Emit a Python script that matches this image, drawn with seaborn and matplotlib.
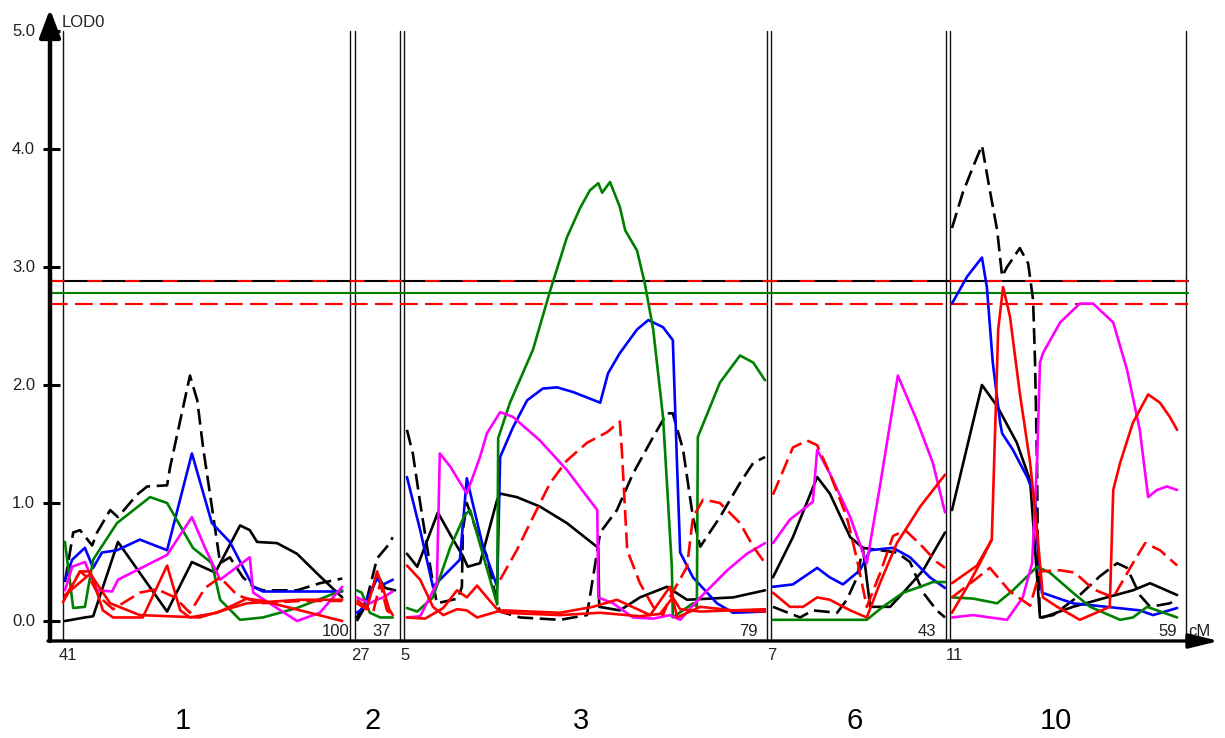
import matplotlib
matplotlib.use("Agg")
import matplotlib.pyplot as plt
import pandas as pd
import seaborn as sns

# ---------------- data ----------------
CHROMS = ["1", "2", "3", "6", "10"]
CM_START = [41, 27, 5, 7, 11]
CM_END = [100, 37, 79, 43, 59]
Y_TICKS = [0.0, 1.0, 2.0, 3.0, 4.0, 5.0]
Y_TICK_LABELS = ["0.0", "1.0", "2.0", "3.0", "4.0", "5.0"]
THRESH_BLACK = 2.88
THRESH_RED_HI = 2.88
THRESH_GREEN = 2.78
THRESH_RED_LO = 2.69

# chromosome 1
c1_K = ([41.4, 45.5, 47.2, 52.3, 62.4, 67.5, 72.3, 77.4, 79.4, 80.9, 85.0, 89.1, 93.8, 98.4],
        [0.0, 0.03, 0.04, 0.67, 0.08, 0.5, 0.41, 0.81, 0.77, 0.67, 0.66, 0.57, 0.38, 0.2])
c1_Kd = ([41.4, 43.1, 44.5, 47.0, 48.0, 50.7, 52.3, 56.2, 58.3, 62.4, 63.0, 67.1, 68.6, 69.8, 71.6,
          73.3, 75.3, 78.0, 80.1, 82.1, 89.1, 93.8, 98.4],
         [0.33, 0.75, 0.77, 0.64, 0.75, 0.94, 0.88, 1.07, 1.14, 1.15, 1.3, 2.08, 1.87, 1.47, 0.97,
          0.49, 0.54, 0.37, 0.29, 0.26, 0.26, 0.32, 0.36])
c1_B = ([41.4, 42.9, 45.5, 47.2, 49.0, 52.1, 56.8, 62.4, 67.5, 71.6, 75.3, 80.1, 82.1, 98.4],
        [0.35, 0.52, 0.62, 0.45, 0.58, 0.6, 0.69, 0.6, 1.42, 0.83, 0.67, 0.29, 0.25, 0.25])
c1_G = ([41.4, 43.1, 45.5, 47.2, 52.1, 58.9, 62.4, 67.7, 71.6, 73.3, 77.4, 82.1, 89.1, 98.4],
        [0.67, 0.11, 0.12, 0.52, 0.83, 1.05, 1.0, 0.62, 0.49, 0.18, 0.01, 0.03, 0.11, 0.26])
c1_M = ([41.4, 42.9, 45.5, 48.0, 51.1, 52.3, 62.4, 67.5, 70.2, 73.3, 79.4, 80.1, 89.1, 93.8, 98.4],
        [0.26, 0.46, 0.5, 0.26, 0.25, 0.35, 0.56, 0.88, 0.62, 0.35, 0.54, 0.24, 0.0, 0.07, 0.29])
c1_R1 = ([41.0, 44.5, 46.6, 49.2, 51.3, 57.4, 62.4, 65.1, 67.1, 72.7, 78.8, 82.1, 98.4],
         [0.16, 0.42, 0.42, 0.09, 0.03, 0.03, 0.47, 0.09, 0.03, 0.07, 0.19, 0.17, 0.0])
c1_R2 = ([41.4, 46.6, 50.7, 56.8, 69.1, 78.8, 89.7, 98.4],
         [0.22, 0.4, 0.15, 0.05, 0.03, 0.15, 0.18, 0.18])
c1_Rd = ([41.4, 44.5, 46.6, 48.6, 51.3, 56.8, 60.3, 64.0, 67.1, 70.2, 73.3, 76.8, 81.5, 89.7, 98.4],
         [0.2, 0.42, 0.35, 0.2, 0.1, 0.24, 0.27, 0.2, 0.07, 0.28, 0.37, 0.22, 0.15, 0.17, 0.17])

# chromosome 2
c2_K = ([27.4, 30.8, 31.9, 33.7, 35.9], [0.03, 0.26, 0.39, 0.28, 0.26])
c2_Kd = ([27.4, 29.2, 31.9, 34.1, 35.4], [0.0, 0.12, 0.53, 0.63, 0.71])
c2_B = ([27.4, 28.5, 31.0, 32.1, 32.8, 35.4], [0.07, 0.1, 0.29, 0.37, 0.3, 0.35])
c2_G = ([27.4, 28.5, 30.3, 32.6, 35.4], [0.26, 0.24, 0.07, 0.03, 0.03])
c2_M = ([27.4, 30.3, 31.9, 33.2, 35.4], [0.2, 0.15, 0.18, 0.2, 0.25])
c2_R1 = ([27.4, 29.6, 31.9, 33.2, 34.6, 35.4], [0.15, 0.1, 0.42, 0.28, 0.1, 0.05])
c2_Rd = ([27.4, 31.0, 32.6, 34.1, 35.4], [0.18, 0.07, 0.32, 0.09, 0.05])

# chromosome 3
c3_K = ([5.6, 7.7, 11.9, 15.0, 17.0, 18.0, 20.5, 24.0, 24.6, 28.0, 32.7, 38.2, 44.6, 44.8, 49.0,
         53.1, 58.6, 62.7, 72.1, 78.6],
        [0.57, 0.46, 0.92, 0.69, 0.55, 0.46, 0.49, 1.03, 1.08, 1.05, 0.97, 0.83, 0.62, 0.12, 0.09,
         0.2, 0.29, 0.18, 0.2, 0.26])
c3_Kd = ([5.6, 6.8, 8.3, 9.7, 10.9, 11.7, 16.0, 16.8, 17.0, 17.8, 19.9, 21.9, 24.0, 24.6, 28.7,
          36.8, 42.3, 45.0, 48.4, 51.7, 55.8, 58.6, 59.8, 61.9, 63.9, 65.4, 69.4, 73.5, 76.2, 78.6],
         [1.62, 1.42, 1.0, 0.63, 0.32, 0.15, 0.19, 0.29, 0.77, 1.0, 0.75, 0.55, 0.15, 0.08, 0.03,
          0.01, 0.05, 0.75, 0.94, 1.25, 1.56, 1.76, 1.76, 1.45, 0.88, 0.63, 0.88, 1.17, 1.34, 1.39])
c3_B = ([5.6, 8.3, 10.9, 16.4, 17.8, 21.1, 24.0, 24.6, 27.2, 30.1, 33.3, 36.2, 39.5, 45.0, 46.6,
         49.0, 52.5, 54.8, 57.8, 59.8, 60.7, 61.3, 63.9, 68.8, 72.1, 78.6],
        [1.22, 0.77, 0.29, 0.52, 1.21, 0.63, 0.29, 1.39, 1.64, 1.87, 1.97, 1.98, 1.94, 1.85, 2.1,
         2.27, 2.47, 2.55, 2.49, 2.38, 1.28, 0.58, 0.37, 0.15, 0.07, 0.08])
c3_G = ([5.6, 7.7, 10.9, 14.4, 17.4, 18.5, 24.0, 24.2, 26.6, 31.3, 34.8, 38.2, 40.9, 42.9, 44.6,
         45.4, 47.0, 49.0, 50.1, 52.5, 54.1, 55.8, 57.8, 58.6, 59.6, 59.8, 63.9, 64.7, 64.9, 69.4,
         73.5, 76.2, 78.6],
        [0.11, 0.08, 0.2, 0.62, 0.9, 0.94, 0.14, 1.55, 1.85, 2.3, 2.8, 3.25, 3.5, 3.65, 3.71,
         3.63, 3.72, 3.51, 3.31, 3.14, 2.86, 2.47, 1.73, 1.17, 0.46, 0.03, 0.15, 0.12, 1.56, 2.02,
         2.25, 2.19, 2.04])
c3_M = ([5.6, 8.3, 11.7, 12.3, 14.4, 17.8, 20.5, 21.9, 24.6, 27.2, 32.7, 38.2, 44.4, 44.6, 47.6,
         51.7, 55.8, 59.2, 61.3, 65.4, 70.9, 74.9, 78.6],
        [0.03, 0.04, 0.32, 1.42, 1.31, 1.08, 1.39, 1.59, 1.77, 1.73, 1.53, 1.28, 0.94, 0.2, 0.15,
         0.03, 0.02, 0.05, 0.01, 0.2, 0.43, 0.57, 0.66])
c3_R1 = ([5.6, 8.3, 10.9, 13.0, 15.8, 17.8, 19.9, 24.0, 25.2, 36.8, 43.5, 48.4, 55.2, 59.2, 60.7,
          65.4, 72.1, 78.6],
         [0.47, 0.35, 0.12, 0.05, 0.1, 0.09, 0.03, 0.08, 0.09, 0.07, 0.12, 0.18, 0.05, 0.29, 0.03,
          0.12, 0.09, 0.08])
c3_R2 = ([5.6, 9.3, 13.0, 15.8, 17.8, 19.9, 21.9, 24.0, 25.2, 36.8, 45.0, 53.1, 57.2, 59.8, 61.3,
          65.4, 78.6],
         [0.03, 0.02, 0.11, 0.26, 0.2, 0.3, 0.2, 0.1, 0.07, 0.05, 0.07, 0.04, 0.06, 0.2, 0.1,
          0.08, 0.1])
c3_Rd = ([24.6, 28.0, 31.3, 34.8, 38.2, 42.3, 46.4, 49.0, 49.4, 50.5, 53.1, 55.8, 57.8, 59.2, 62.7,
          63.9, 66.0, 69.4, 73.5, 76.2, 78.6],
         [0.35, 0.6, 0.88, 1.17, 1.36, 1.51, 1.6, 1.69, 1.45, 0.6, 0.32, 0.12, 0.05, 0.2, 0.46,
          0.88, 1.03, 1.0, 0.83, 0.63, 0.49])

# chromosome 6
c6_K = ([7.4, 11.5, 16.5, 19.1, 23.3, 25.9, 27.4, 28.8, 31.5, 34.2, 38.3, 42.8],
        [0.37, 0.71, 1.22, 1.08, 0.71, 0.62, 0.12, 0.12, 0.12, 0.24, 0.43, 0.75])
c6_Kd = ([7.4, 13.0, 15.6, 20.6, 22.6, 24.7, 25.9, 32.9, 35.6, 38.3, 41.1, 42.8],
         [0.12, 0.03, 0.09, 0.07, 0.18, 0.37, 0.62, 0.58, 0.5, 0.24, 0.09, 0.03])
c6_B = ([7.4, 11.5, 16.5, 19.1, 21.8, 25.3, 27.4, 32.1, 35.6, 39.7, 42.8],
        [0.29, 0.31, 0.45, 0.37, 0.31, 0.43, 0.6, 0.62, 0.54, 0.37, 0.28])
c6_G = ([7.4, 26.7, 30.0, 34.2, 37.7, 40.3, 42.8],
        [0.01, 0.01, 0.12, 0.24, 0.29, 0.33, 0.33])
c6_M = ([7.4, 10.9, 15.6, 16.5, 19.1, 23.3, 26.7, 29.4, 33.1, 37.0, 40.3, 42.8],
        [0.66, 0.86, 1.01, 1.45, 1.25, 0.88, 0.49, 1.14, 2.08, 1.7, 1.34, 0.92])
c6_R1 = ([7.4, 10.9, 13.6, 16.5, 19.1, 23.3, 26.7, 29.4, 32.9, 37.7, 42.8],
         [0.24, 0.12, 0.12, 0.2, 0.18, 0.09, 0.03, 0.32, 0.66, 0.97, 1.24])
c6_Rd = ([7.4, 11.5, 14.4, 16.5, 19.1, 22.6, 24.7, 26.7, 29.4, 32.1, 34.6, 37.7, 41.1, 42.8],
         [1.07, 1.47, 1.53, 1.49, 1.25, 0.88, 0.52, 0.12, 0.4, 0.72, 0.77, 0.65, 0.5, 0.45])

# chromosome 10
c10_K = ([11.4, 14.5, 17.5, 20.6, 24.6, 27.3, 29.3, 29.9, 36.0, 42.9, 48.2, 51.7, 57.2],
         [0.94, 1.48, 2.0, 1.82, 1.51, 1.19, 0.03, 0.03, 0.12, 0.2, 0.26, 0.32, 0.22])
c10_Kd = ([11.4, 13.6, 15.7, 17.5, 19.1, 20.6, 21.6, 22.6, 25.2, 26.9, 27.9, 28.3, 28.7, 28.9,
           29.3, 32.0, 37.4, 41.5, 45.0, 47.0, 49.6, 51.7, 55.7, 57.0],
          [3.33, 3.63, 3.85, 4.03, 3.65, 3.31, 2.92, 3.0, 3.16, 3.03, 2.72, 2.19, 1.34, 0.49,
           0.03, 0.05, 0.22, 0.38, 0.49, 0.45, 0.22, 0.12, 0.15, 0.18])
c10_B = ([11.4, 14.5, 17.5, 18.5, 19.7, 21.2, 21.6, 23.8, 26.7, 28.3, 28.9, 29.7, 36.0, 42.9,
          49.6, 52.3, 57.2],
         [2.69, 2.92, 3.08, 2.83, 2.19, 1.68, 1.59, 1.45, 1.22, 1.05, 0.58, 0.24, 0.15, 0.12,
          0.09, 0.05, 0.11])
c10_G = ([11.4, 15.7, 20.6, 23.8, 28.7, 31.3, 36.0, 39.5, 45.6, 48.2, 51.1, 57.2],
         [0.2, 0.19, 0.15, 0.26, 0.46, 0.41, 0.24, 0.12, 0.01, 0.03, 0.12, 0.03])
c10_M = ([11.4, 15.7, 22.6, 25.8, 27.7, 28.7, 29.3, 29.9, 33.4, 37.4, 40.1, 44.2, 47.0, 49.6,
          51.3, 53.1, 55.1, 57.2],
         [0.03, 0.05, 0.01, 0.2, 0.49, 1.34, 2.19, 2.27, 2.53, 2.69, 2.69, 2.53, 2.13, 1.62,
          1.05, 1.11, 1.14, 1.11])
c10_R1 = ([11.4, 14.5, 17.1, 19.5, 20.8, 21.8, 23.2, 25.2, 27.3, 28.7, 29.9, 32.8, 37.4, 43.5,
           44.2, 45.6, 48.2, 51.3, 53.7, 55.7, 57.2],
          [0.07, 0.29, 0.49, 0.69, 2.47, 2.83, 2.58, 1.93, 1.34, 0.77, 0.2, 0.12, 0.01, 0.12,
           1.11, 1.34, 1.68, 1.92, 1.85, 1.73, 1.62])
c10_R2 = ([11.4, 16.5, 19.5], [0.32, 0.47, 0.69])
c10_Rd = ([11.4, 16.1, 19.1, 23.2, 27.3, 29.3, 33.4, 36.4, 40.1, 44.2, 48.2, 50.7, 53.7, 57.2],
          [0.2, 0.35, 0.45, 0.25, 0.13, 0.42, 0.43, 0.41, 0.27, 0.2, 0.49, 0.66, 0.6, 0.47])

CURVES = {
    "1": {"K": c1_K, "Kd": c1_Kd, "B": c1_B, "G": c1_G, "M": c1_M, "R1": c1_R1, "R2": c1_R2, "Rd": c1_Rd},
    "2": {"K": c2_K, "Kd": c2_Kd, "B": c2_B, "G": c2_G, "M": c2_M, "R1": c2_R1, "Rd": c2_Rd},
    "3": {"K": c3_K, "Kd": c3_Kd, "B": c3_B, "G": c3_G, "M": c3_M, "R1": c3_R1, "R2": c3_R2, "Rd": c3_Rd},
    "6": {"K": c6_K, "Kd": c6_Kd, "B": c6_B, "G": c6_G, "M": c6_M, "R1": c6_R1, "Rd": c6_Rd},
    "10": {"K": c10_K, "Kd": c10_Kd, "B": c10_B, "G": c10_G, "M": c10_M, "R1": c10_R1, "R2": c10_R2, "Rd": c10_Rd},
}

# ---------------- layout / style ----------------
W, H = 1225, 738
PANEL_LEFT = [63, 355, 404, 771, 950]      # pixel layout of the panels
PANEL_RIGHT = [350, 400, 767, 946, 1186]
NAME_X = [183, 373, 581, 855, 1056]
Y0_PX, PX_PER_LOD = 621, 118.0

def py2lod(py):
    return (Y0_PX - py) / PX_PER_LOD

COLORS = {"K": "#000000", "Kd": "#000000", "B": "#0000ff", "G": "#008000",
          "M": "#ff00ff", "R1": "#ff0000", "R2": "#ff0000", "Rd": "#ff0000"}
DASH = (6, 2.5)
DASHES = {"K": "", "Kd": DASH, "B": "", "G": "", "M": "", "R1": "", "R2": "", "Rd": DASH}

rows = []
for ci, ch in enumerate(CHROMS):
    s, e = CM_START[ci], CM_END[ci]
    l, r = PANEL_LEFT[ci], PANEL_RIGHT[ci]
    for trait, (cms, lods) in CURVES[ch].items():
        for i, (c, v) in enumerate(zip(cms, lods)):
            rows.append({"chrom": ch, "trait": trait, "order": i, "cM": c, "LOD": v,
                         "gx": l + (c - s) * (r - l) / (e - s)})
df = pd.DataFrame(rows)

sns.set_style("white")
plt.rcParams["font.family"] = ["Liberation Sans", "DejaVu Sans"]

fig = plt.figure(figsize=(W / 100, H / 100), dpi=100)
ax = fig.add_axes([0, 0, 1, 1])
ax.set_xlim(0, W)
ax.set_ylim(py2lod(H), py2lod(0))
ax.axis("off")

x_axis_y = py2lod(641)
top_y = Y_TICKS[-1]
SMALL = 12
TXT = "#222222"

# panel borders
for l, r in zip(PANEL_LEFT, PANEL_RIGHT):
    for x in (l, r):
        ax.plot([x, x], [x_axis_y, top_y], color="#111111", lw=1.0, zorder=2)

# thresholds
tx = [50, 1188]
ax.plot(tx, [THRESH_BLACK] * 2, color="black", lw=1.5, zorder=3)
ax.plot(tx, [THRESH_RED_HI] * 2, color="#ff0000", lw=1.5, dashes=(7, 11), zorder=3)
ax.plot(tx, [THRESH_GREEN] * 2, color="#008000", lw=1.5, zorder=3)
ax.plot(tx, [THRESH_RED_LO] * 2, color="#ff0000", lw=1.5, dashes=(8.5, 3.5), zorder=3)

# curves
sns.lineplot(data=df, x="gx", y="LOD", hue="trait", style="trait", units="chrom",
             estimator=None, sort=False, palette=COLORS, dashes=DASHES,
             linewidth=1.9, legend=False, ax=ax, zorder=4)

# axes with arrows
ax.annotate("", xy=(50, py2lod(9)), xytext=(50, x_axis_y),
            arrowprops=dict(arrowstyle="-|>,head_length=0.85,head_width=0.32",
                            lw=3.2, color="black", shrinkA=0, shrinkB=0, mutation_scale=20),
            zorder=6)
ax.annotate("", xy=(1219, x_axis_y), xytext=(48, x_axis_y),
            arrowprops=dict(arrowstyle="-|>,head_length=0.9,head_width=0.22",
                            lw=2.4, color="black", shrinkA=0, shrinkB=0, mutation_scale=20),
            zorder=6)

# y ticks
for t, lab in zip(Y_TICKS, Y_TICK_LABELS):
    ax.plot([43, 60], [t, t], color="black", lw=2.2, zorder=6, solid_capstyle="butt")
    ax.text(35, t, lab, ha="right", va="center", fontsize=SMALL, color=TXT)
ax.text(62, py2lod(27), "LOD0", ha="left", va="baseline", fontsize=SMALL, color=TXT)

# cM labels
for ci in range(len(CHROMS)):
    ax.text(PANEL_LEFT[ci] - 4, py2lod(660), str(CM_START[ci]), ha="left", va="baseline",
            fontsize=SMALL, color=TXT)
    ax.text(PANEL_RIGHT[ci] - 28, py2lod(636), str(CM_END[ci]), ha="left", va="baseline",
            fontsize=SMALL, color=TXT)
    ax.text(NAME_X[ci], py2lod(729), CHROMS[ci], ha="center", va="baseline",
            fontsize=21, color="black")
ax.text(1188, py2lod(636), "cM", ha="left", va="baseline", fontsize=SMALL, color=TXT)

fig.savefig("out.png", dpi=100)
